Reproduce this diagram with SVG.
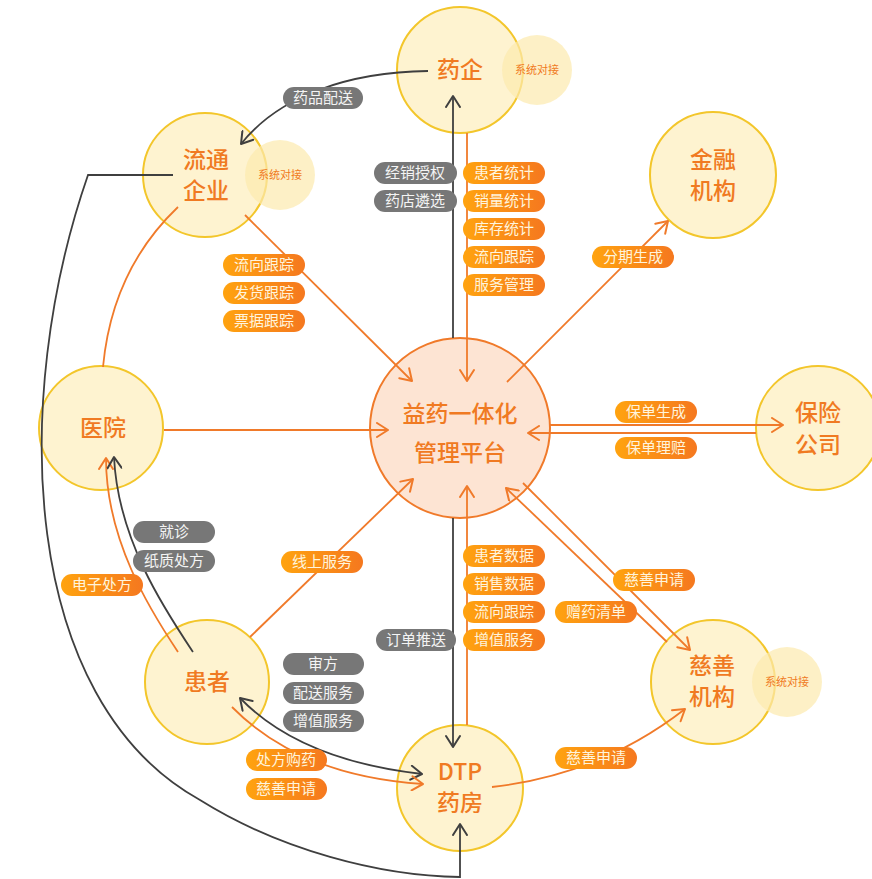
<svg xmlns="http://www.w3.org/2000/svg" width="872" height="879" viewBox="0 0 872 879">
<defs>
<linearGradient id="og" x1="0" y1="0" x2="1" y2="0">
<stop offset="0" stop-color="#FFA30F"/>
<stop offset="1" stop-color="#F5781F"/>
</linearGradient>
<marker id="ao" viewBox="-13 -8 15 16" markerWidth="15" markerHeight="16" refX="0" refY="0" orient="auto-start-reverse" markerUnits="userSpaceOnUse">
<path d="M-11,-7 L0,0 L-11,7" fill="none" stroke="#F07A2A" stroke-width="2" stroke-linecap="round" stroke-linejoin="round"/>
</marker>
<marker id="ag" viewBox="-13 -8 15 16" markerWidth="15" markerHeight="16" refX="0" refY="0" orient="auto-start-reverse" markerUnits="userSpaceOnUse">
<path d="M-11,-7 L0,0 L-11,7" fill="none" stroke="#3F3F3F" stroke-width="2" stroke-linecap="round" stroke-linejoin="round"/>
</marker>
</defs>
<style>
.node{fill:#FEF3D0;stroke:#F3C62B;stroke-width:2}
.sub{fill:#FCE9AE;fill-opacity:0.7}
.hub{fill:#FDE4D3;stroke:#F07A2A;stroke-width:2}
.nt{font-family:"Noto Sans CJK SC","Noto Sans",sans-serif;font-size:23px;font-weight:500;fill:#F07A22;text-anchor:middle}
.st{font-family:"Noto Sans CJK SC",sans-serif;font-size:11px;fill:#F07A22;text-anchor:middle}
.lo{fill:none;stroke:#F07A2A;stroke-width:1.8}
.lg{fill:none;stroke:#3F3F3F;stroke-width:1.8}
.po{fill:url(#og)}
.pg{fill:#777777}
.pt{font-family:"Noto Sans CJK SC",sans-serif;font-size:15px;fill:#FFF4DC;text-anchor:middle}
.gt{font-family:"Noto Sans CJK SC",sans-serif;font-size:15px;fill:#F4F4F4;text-anchor:middle}
</style>

<g id="node-yaoqi"><circle class="node" cx="460" cy="70" r="63"/><circle class="sub" cx="537" cy="70" r="35"/><text class="st" x="537" y="74">系统对接</text><text class="nt" x="460" y="78">药企</text></g>
<g id="node-liutong"><circle class="node" cx="205" cy="175" r="62"/><circle class="sub" cx="280" cy="175" r="35"/><text class="st" x="280" y="179">系统对接</text><text class="nt" x="206" y="168">流通</text><text class="nt" x="206" y="199">企业</text></g>
<g id="node-jinrong"><circle class="node" cx="713" cy="175" r="63"/><text class="nt" x="713" y="168">金融</text><text class="nt" x="713" y="199">机构</text></g>
<g id="node-yiyuan"><circle class="node" cx="101" cy="428" r="62"/><text class="nt" x="103" y="436">医院</text></g>
<g id="node-baoxian"><circle class="node" cx="818" cy="428" r="62"/><text class="nt" x="818" y="421">保险</text><text class="nt" x="818" y="453">公司</text></g>
<g id="node-huanzhe"><circle class="node" cx="207" cy="682" r="62"/><text class="nt" x="207" y="690">患者</text></g>
<g id="node-dtp"><circle class="node" cx="460" cy="788" r="63"/><text class="nt" x="460" y="780">DTP</text><text class="nt" x="460" y="811">药房</text></g>
<g id="node-cishan"><circle class="node" cx="713" cy="682" r="62"/><circle class="sub" cx="787" cy="682" r="35"/><text class="st" x="787" y="686">系统对接</text><text class="nt" x="712" y="674">慈善</text><text class="nt" x="712" y="705">机构</text></g>
<g id="node-hub"><circle class="hub" cx="460" cy="428" r="90"/><text class="nt" x="460" y="422">益药一体化</text><text class="nt" x="460" y="461">管理平台</text></g>

<g id="connectors">
<path class="lg" d="M428,71 C350,72 280,95 241,144" marker-end="url(#ag)"/>
<path class="lg" d="M453,338 L453,96" marker-end="url(#ag)"/>
<path class="lg" d="M453,518 L453,747" marker-end="url(#ag)"/>
<path class="lo" d="M467,133 L467,381" marker-end="url(#ao)"/>
<path class="lo" d="M467,725 L467,486" marker-end="url(#ao)"/>
<path class="lo" d="M245,215 L412,381" marker-end="url(#ao)"/>
<path class="lo" d="M164,430 L388,430" marker-end="url(#ao)"/>
<path class="lo" d="M250,637 L413,479" marker-end="url(#ao)"/>
<path class="lo" d="M507,382 L668,221" marker-end="url(#ao)"/>
<path class="lo" d="M550,425 L783,425" marker-end="url(#ao)"/>
<path class="lo" d="M756,433 L528,433" marker-end="url(#ao)"/>
<path class="lo" d="M667,642 L506,488" marker-end="url(#ao)"/>
<path class="lo" d="M523,483 L690,650" marker-end="url(#ao)"/>
<path class="lo" d="M492,787 Q600,775 685,709" marker-end="url(#ao)"/>
<path class="lo" d="M178,207 Q112,270 103,367"/>
<path class="lo" d="M178,652 C150,610 106,540 106,458" marker-end="url(#ao)"/>
<path class="lg" d="M193,652 C165,610 118,540 114,457" marker-end="url(#ag)"/>
<path class="lg" d="M240,698 Q300,760 422,774" marker-start="url(#ag)" marker-end="url(#ag)"/>
<path class="lo" d="M232,707 Q300,776 423,784" marker-end="url(#ao)"/>
<path class="lg" d="M173,175 L88,175 C10,400 20,700 200,800 C280,850 380,876 460,877 L460,824" marker-end="url(#ag)"/>
</g>

<g id="labels">
<g><rect class="pg" x="283" y="87" width="80" height="22" rx="11"/><text class="gt" x="323" y="103">药品配送</text></g>
<g><rect class="pg" x="374" y="162" width="83" height="22" rx="11"/><text class="gt" x="415" y="178">经销授权</text></g>
<g><rect class="pg" x="374" y="190" width="83" height="22" rx="11"/><text class="gt" x="415" y="206">药店遴选</text></g>
<g><rect class="po" x="463" y="162" width="82" height="22" rx="11"/><text class="pt" x="504" y="178">患者统计</text></g>
<g><rect class="po" x="463" y="190" width="82" height="22" rx="11"/><text class="pt" x="504" y="206">销量统计</text></g>
<g><rect class="po" x="463" y="218" width="82" height="22" rx="11"/><text class="pt" x="504" y="234">库存统计</text></g>
<g><rect class="po" x="463" y="246" width="82" height="22" rx="11"/><text class="pt" x="504" y="262">流向跟踪</text></g>
<g><rect class="po" x="463" y="274" width="82" height="22" rx="11"/><text class="pt" x="504" y="290">服务管理</text></g>
<g><rect class="po" x="223" y="254" width="82" height="22" rx="11"/><text class="pt" x="264" y="270">流向跟踪</text></g>
<g><rect class="po" x="223" y="282" width="82" height="22" rx="11"/><text class="pt" x="264" y="298">发货跟踪</text></g>
<g><rect class="po" x="223" y="310" width="82" height="22" rx="11"/><text class="pt" x="264" y="326">票据跟踪</text></g>
<g><rect class="po" x="592" y="246" width="82" height="22" rx="11"/><text class="pt" x="633" y="262">分期生成</text></g>
<g><rect class="po" x="615" y="401" width="82" height="22" rx="11"/><text class="pt" x="656" y="417">保单生成</text></g>
<g><rect class="po" x="615" y="437" width="82" height="22" rx="11"/><text class="pt" x="656" y="453">保单理赔</text></g>
<g><rect class="pg" x="133" y="521" width="82" height="22" rx="11"/><text class="gt" x="174" y="537">就诊</text></g>
<g><rect class="pg" x="133" y="550" width="82" height="22" rx="11"/><text class="gt" x="174" y="566">纸质处方</text></g>
<g><rect class="po" x="61" y="574" width="82" height="22" rx="11"/><text class="pt" x="102" y="590">电子处方</text></g>
<g><rect class="po" x="281" y="551" width="82" height="22" rx="11"/><text class="pt" x="322" y="567">线上服务</text></g>
<g><rect class="po" x="463" y="545" width="82" height="22" rx="11"/><text class="pt" x="504" y="561">患者数据</text></g>
<g><rect class="po" x="463" y="573" width="82" height="22" rx="11"/><text class="pt" x="504" y="589">销售数据</text></g>
<g><rect class="po" x="463" y="601" width="82" height="22" rx="11"/><text class="pt" x="504" y="617">流向跟踪</text></g>
<g><rect class="po" x="463" y="629" width="82" height="22" rx="11"/><text class="pt" x="504" y="645">增值服务</text></g>
<g><rect class="pg" x="376" y="629" width="80" height="22" rx="11"/><text class="gt" x="416" y="645">订单推送</text></g>
<g><rect class="po" x="613" y="569" width="82" height="22" rx="11"/><text class="pt" x="654" y="585">慈善申请</text></g>
<g><rect class="po" x="555" y="601" width="82" height="22" rx="11"/><text class="pt" x="596" y="617">赠药清单</text></g>
<g><rect class="pg" x="283" y="653" width="81" height="22" rx="11"/><text class="gt" x="323" y="669">审方</text></g>
<g><rect class="pg" x="283" y="682" width="81" height="22" rx="11"/><text class="gt" x="323" y="698">配送服务</text></g>
<g><rect class="pg" x="283" y="710" width="81" height="22" rx="11"/><text class="gt" x="323" y="726">增值服务</text></g>
<g><rect class="po" x="246" y="749" width="81" height="22" rx="11"/><text class="pt" x="286" y="765">处方购药</text></g>
<g><rect class="po" x="246" y="778" width="81" height="22" rx="11"/><text class="pt" x="286" y="794">慈善申请</text></g>
<g><rect class="po" x="555" y="747" width="82" height="22" rx="11"/><text class="pt" x="596" y="763">慈善申请</text></g>
</g>
</svg>
